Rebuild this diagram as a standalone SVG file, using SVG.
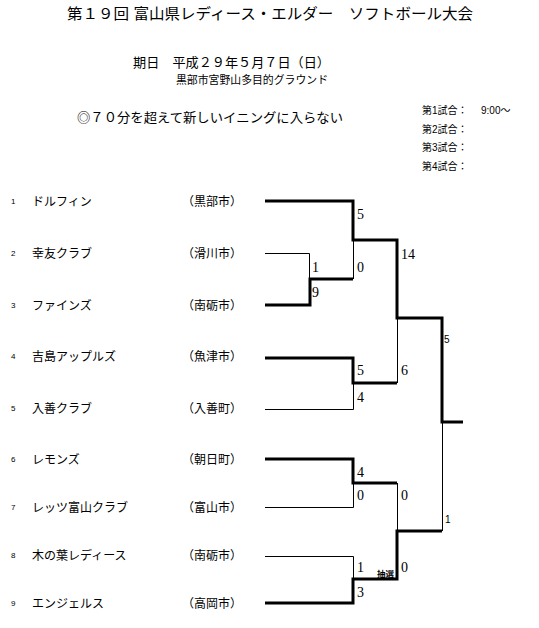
<svg xmlns="http://www.w3.org/2000/svg" width="539" height="628" viewBox="0 0 539 628">
<style>
.t{font-family:"Liberation Sans","Noto Sans CJK JP",sans-serif;fill:#000}
.title{font-size:15px}
.h13{font-size:13px}
.h11{font-size:11px}
.sm{font-size:10px}
.num{font-size:8px}
.name{font-size:12px}
.city{font-size:12px}
.sc{font-family:"Liberation Serif","DejaVu Serif",serif;font-size:14px;fill:#000}
.scs{font-family:"Liberation Sans",sans-serif;font-size:10px;fill:#000}
.tk{fill:none;stroke:#000;stroke-width:3;stroke-linejoin:miter}
.tn{fill:none;stroke:#000;stroke-width:1}
</style>
<rect width="539" height="628" fill="#fff"/>
<g id="header">
<text class="t title" x="67" y="19" textLength="406" lengthAdjust="spacingAndGlyphs">第１９回 富山県レディース・エルダー　ソフトボール大会</text>
<text class="t h13" x="133" y="67" textLength="197" lengthAdjust="spacingAndGlyphs">期日　平成２９年５月７日（日）</text>
<text class="t h11" x="176" y="84" textLength="152" lengthAdjust="spacingAndGlyphs">黒部市宮野山多目的グラウンド</text>
<text class="t h13" x="77" y="122" textLength="266" lengthAdjust="spacingAndGlyphs">◎７０分を超えて新しいイニングに入らない</text>
<text class="t sm" x="422" y="114">第1試合：</text>
<text class="t sm" x="481" y="114">9:00～</text>
<text class="t sm" x="422" y="133">第2試合：</text>
<text class="t sm" x="422" y="151">第3試合：</text>
<text class="t sm" x="422" y="170">第4試合：</text>
</g>
<g id="team1"><text class="t num" x="11" y="204">1</text><text class="t name" x="32" y="206">ドルフィン</text><text class="t city" x="182" y="206" textLength="60" lengthAdjust="spacingAndGlyphs">（黒部市）</text></g>
<g id="team2"><text class="t num" x="11" y="256">2</text><text class="t name" x="32" y="258">幸友クラブ</text><text class="t city" x="182" y="258" textLength="60" lengthAdjust="spacingAndGlyphs">（滑川市）</text></g>
<g id="team3"><text class="t num" x="11" y="308">3</text><text class="t name" x="32" y="310">ファインズ</text><text class="t city" x="182" y="310" textLength="60" lengthAdjust="spacingAndGlyphs">（南砺市）</text></g>
<g id="team4"><text class="t num" x="11" y="359">4</text><text class="t name" x="32" y="361">吉島アップルズ</text><text class="t city" x="182" y="361" textLength="60" lengthAdjust="spacingAndGlyphs">（魚津市）</text></g>
<g id="team5"><text class="t num" x="11" y="411">5</text><text class="t name" x="32" y="413">入善クラブ</text><text class="t city" x="182" y="413" textLength="60" lengthAdjust="spacingAndGlyphs">（入善町）</text></g>
<g id="team6"><text class="t num" x="11" y="462">6</text><text class="t name" x="32" y="464">レモンズ</text><text class="t city" x="182" y="464" textLength="60" lengthAdjust="spacingAndGlyphs">（朝日町）</text></g>
<g id="team7"><text class="t num" x="11" y="510">7</text><text class="t name" x="32" y="512">レッツ富山クラブ</text><text class="t city" x="182" y="512" textLength="60" lengthAdjust="spacingAndGlyphs">（富山市）</text></g>
<g id="team8"><text class="t num" x="11" y="558">8</text><text class="t name" x="32" y="560">木の葉レディース</text><text class="t city" x="182" y="560" textLength="60" lengthAdjust="spacingAndGlyphs">（南砺市）</text></g>
<g id="team9"><text class="t num" x="11" y="606">9</text><text class="t name" x="32" y="608">エンジェルス</text><text class="t city" x="182" y="608" textLength="60" lengthAdjust="spacingAndGlyphs">（高岡市）</text></g>
<g id="connectors">
<path class="tn" d="M265,253.5 H309.5 V279"/>
<path class="tn" d="M353.5,240 V279"/>
<path class="tn" d="M397.5,318 V383"/>
<path class="tn" d="M265,409.5 H353.5 V383"/>
<path class="tn" d="M265,507.5 H353.5 V483"/>
<path class="tn" d="M397.5,483 V531"/>
<path class="tn" d="M442.5,422 V531"/>
<path class="tn" d="M265,556.5 H353.5 V579"/>
<path class="tk" d="M265,201 H353 V240 H397 V318 H442 V422 H463"/>
<path class="tk" d="M265,305 H310 V279 H353"/>
<path class="tk" d="M265,358 H353 V383 H397"/>
<path class="tk" d="M265,459 H353 V483 H397"/>
<path class="tk" d="M265,603 H353 V579 H397 V531 H442"/>
</g>
<g id="scores">
<text class="sc" x="357" y="219">5</text>
<text class="sc" x="312" y="272">1</text>
<text class="sc" x="357" y="272">0</text>
<text class="sc" x="312" y="297">9</text>
<text class="sc" x="401" y="259">14</text>
<text class="sc" x="357" y="375">5</text>
<text class="sc" x="357" y="402">4</text>
<text class="sc" x="401" y="375">6</text>
<text class="scs" x="444" y="343">5</text>
<text class="sc" x="357" y="477">4</text>
<text class="sc" x="357" y="500">0</text>
<text class="sc" x="401" y="500">0</text>
<text class="scs" x="445" y="523">1</text>
<text class="sc" x="357" y="572">1</text>
<text class="sc" x="401" y="572">0</text>
<text class="sc" x="357" y="597">3</text>
<text class="t" x="377" y="577" font-size="8" font-weight="bold" textLength="17" lengthAdjust="spacingAndGlyphs">抽選</text>
</g>
</svg>
